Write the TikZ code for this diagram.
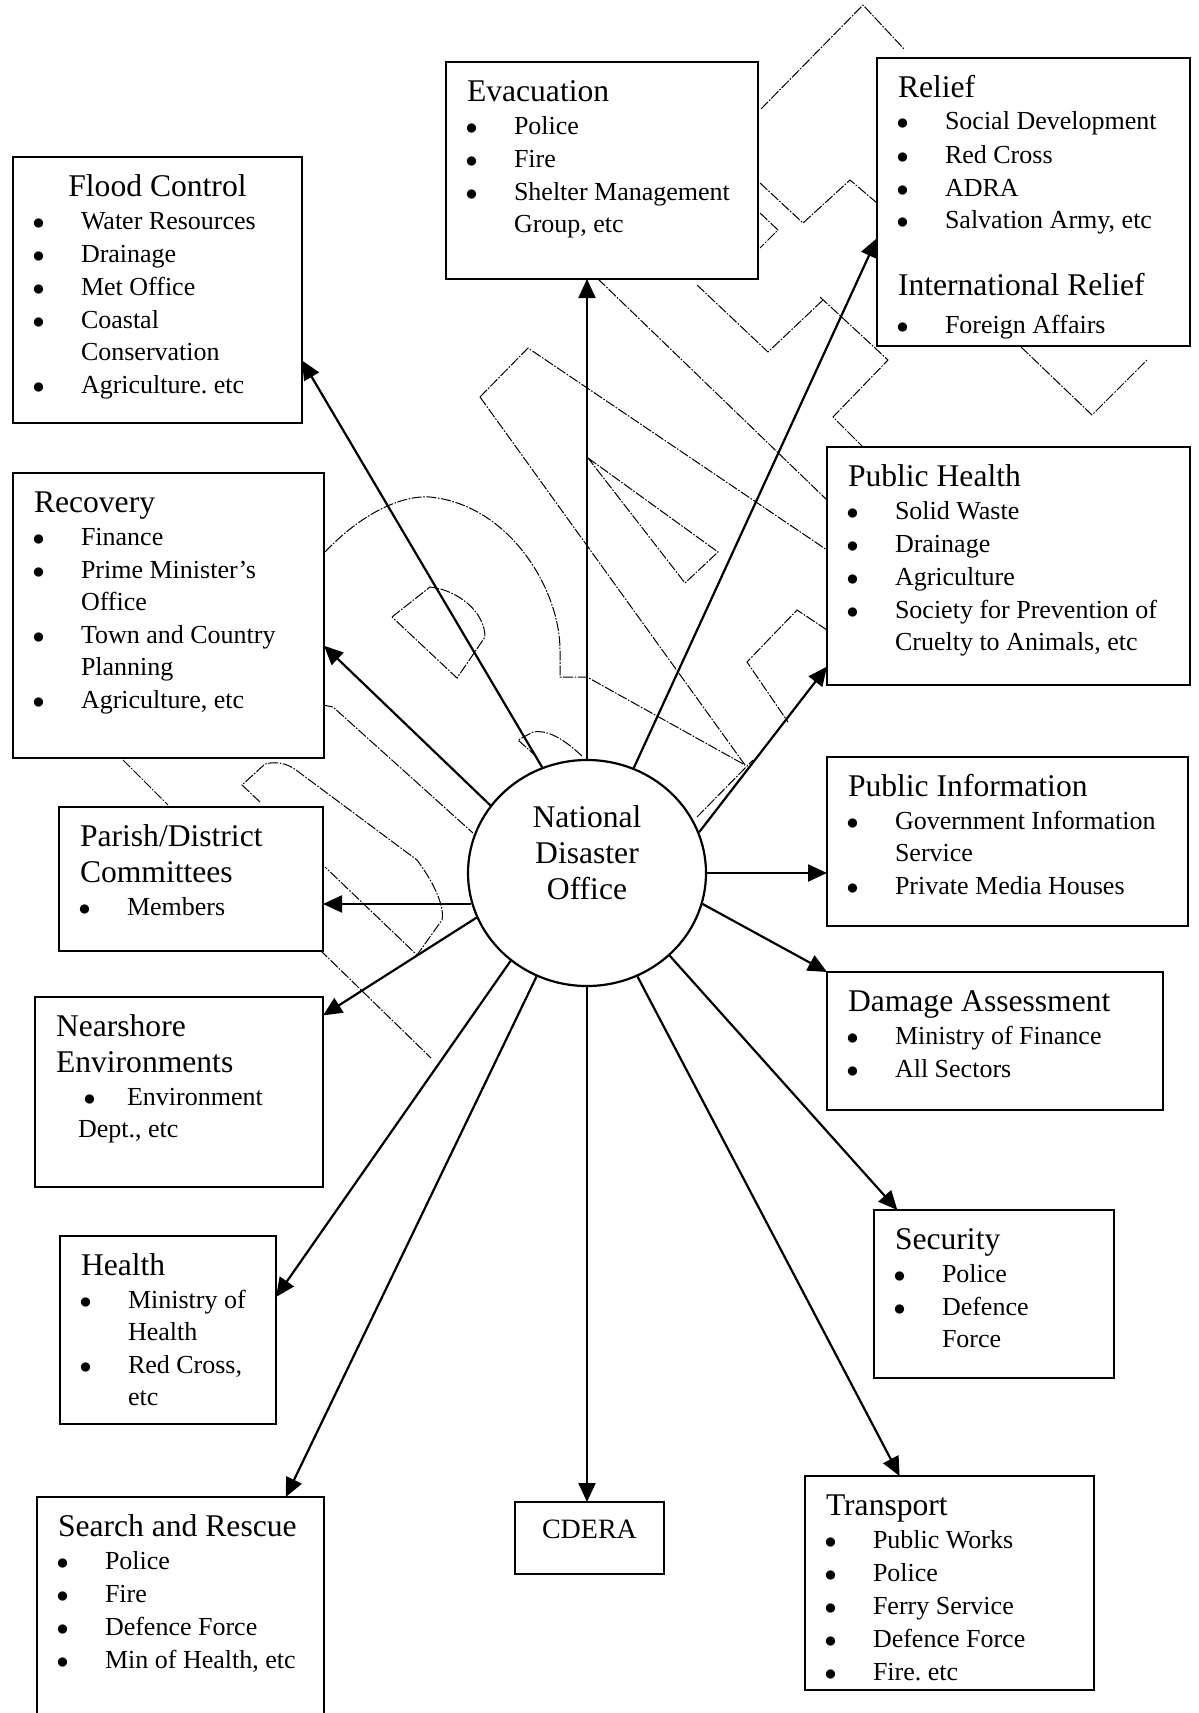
\documentclass[tikz,border=0pt]{standalone}
\usepackage{fontspec}
\setmainfont{Liberation Serif}
\usetikzlibrary{arrows.meta, shapes.geometric}

% text helpers for the boxes
\newcommand{\itemfont}{\fontsize{13}{16}\selectfont}
\newcommand{\hdfont}{\fontsize{15.8}{18}\selectfont}
\newcommand{\hd}[1]{{\hdfont\rule{0pt}{19.5pt}#1\par}}
\newcommand{\hdc}[1]{{\hdfont\centering\rule{0pt}{19.5pt}#1\par}}
\newcommand{\bdot}{\makebox[4.5pt]{$\bullet$}}
\newcommand{\itm}[1]{\hangindent=23.5pt\hangafter=1\noindent\makebox[23.5pt][l]{\bdot}#1\par}
\newcommand{\ubox}[3]{\parbox[t][#2pt][t]{#1pt}{\itemfont\raggedright\setlength{\parskip}{0.5pt}#3}}

\begin{document}
\begin{tikzpicture}[
    x=0.5pt, y=-0.5pt,
    unit/.style={draw, line width=1.4pt, fill=white, anchor=north west, inner xsep=10.5pt, inner ysep=0pt, outer sep=0pt},
    hub/.style={draw, ellipse, line width=1.1pt, fill=white, minimum width=119pt, minimum height=113pt, inner sep=0pt},
    arr/.style={-{Triangle[length=9.5pt, width=8.5pt]}, line width=1.1pt},
    wm/.style={line width=0.5pt, dash pattern=on 5pt off 0.8pt on 0.8pt off 0.8pt}
]
\useasboundingbox (0,0) rectangle (1199,1713);
\clip (0,0) rectangle (1199,1713);
\fill[white] (0,0) rectangle (1199,1713);

% faint background marks
\draw[wm] (480,397) -- (528,348) -- (827,550);
\draw[wm] (480,397) -- (745,765);
\draw[wm] (598,279) -- (827,500);
\draw[wm] (588,458) -- (718,552) -- (685,583) -- cycle;
\draw[wm] (697,285) -- (768,352) -- (823,300);
\draw[wm] (820,297) -- (888,360) -- (833,417) -- (863,447);
\draw[wm] (761,109) -- (863,5) -- (904,49);
\draw[wm] (760,183) -- (803,223) -- (850,180) -- (877,203);
\draw[wm] (760,213) -- (778,230) -- (760,248);
\draw[wm] (1021,347) -- (1092,415) -- (1147,360);
\draw[wm] (325,552) .. controls (360,515) and (400,495) .. (430,497) .. controls (510,505) and (560,590) .. (560,650) -- (560,677) -- (587,677) -- (745,765);
\draw[wm] (392,617) -- (430,587) .. controls (458,590) and (485,612) .. (485,637) -- (457,678) -- cycle;
\draw[wm] (827,630) -- (797,610) -- (747,662) -- (788,722);
\draw[wm] (537,757) -- (518,740) -- (533,732) .. controls (545,730) and (560,735) .. (583,757);
\draw[wm] (323,705) -- (333,707) -- (473,833);
\draw[wm] (123,760) -- (168,805);
\draw[wm] (260,802) -- (242,785) -- (265,764) .. controls (280,760) and (292,766) .. (300,773)
    -- (417,860) .. controls (432,880) and (445,905) .. (442,920) -- (417,955) -- (325,867);
\draw[wm] (320,950) -- (431,1058);
\draw[wm] (697,817) -- (753,760);

% agency boxes
\node[unit] (fc) at (13,157) {\ubox{123.5}{133}{\hdc{Flood Control}
    \itm{Water Resources}\itm{Drainage}\itm{Met Office}\itm{Coastal\newline Conservation}\itm{Agriculture.\ etc}}};
\node[unit] (evac) at (446,62) {\ubox{135}{108.5}{\hd{Evacuation}
    \itm{Police}\itm{Fire}\itm{Shelter Management\newline Group, etc}}};
\node[unit] (relief) at (877,58) {\ubox{135.5}{144}{\hd{Relief}
    \itm{Social Development}\itm{Red Cross}\itm{ADRA}\itm{Salvation Army, etc}
    \vspace{15pt}{\hdfont International Relief\par}\vspace{2pt}
    \itm{Foreign Affairs}}};
\node[unit] (rec) at (13,473) {\ubox{134.5}{142.5}{\hd{Recovery}
    \itm{Finance}\itm{Prime Minister's\newline Office}\itm{Town and Country\newline Planning}\itm{Agriculture, etc}}};
\node[unit] (ph) at (827,447) {\ubox{160.5}{119}{\hd{Public Health}
    \itm{Solid Waste}\itm{Drainage}\itm{Agriculture}\itm{Society for Prevention of\newline Cruelty to Animals, etc}}};
\node[unit] (pi) at (827,757) {\ubox{159.5}{84.5}{\hd{Public Information}
    \itm{Government Information\newline Service}\itm{Private Media Houses}}};
\node[unit] (da) at (827,972) {\ubox{147}{69}{\hd{Damage Assessment}
    \itm{Ministry of Finance}\itm{All Sectors}}};
\node[unit] (sec) at (874,1210) {\ubox{99}{84}{\hd{Security}
    \itm{Police}\itm{Defence\newline Force}}};
\node[unit] (trans) at (805,1476) {\ubox{123.5}{107}{\hd{Transport}
    \itm{Public Works}\itm{Police}\itm{Ferry Service}\itm{Defence Force}\itm{Fire.\ etc}}};
\node[unit] (cdera) at (515,1502) {\ubox{53.5}{36}{\centering\fontsize{14}{16}\selectfont\rule{0pt}{18pt}CDERA\par}};
\node[unit] (sr) at (37,1497) {\ubox{122.5}{130}{\hd{Search and Rescue}
    \itm{Police}\itm{Fire}\itm{Defence Force}\itm{Min of Health, etc}}};
\node[unit] (hl) at (60,1236) {\ubox{87}{94}{\hd{Health}
    \itm{Ministry of\newline Health}\itm{Red Cross,\newline etc}}};
\node[unit] (ns) at (35,997) {\ubox{123}{95}{{\hdfont\rule{0pt}{19.5pt}Nearshore\\Environments\par}
    \noindent\hspace*{14.5pt}\makebox[21pt][l]{\bdot}Environment\\\hspace*{11pt}Dept., etc\par}};
\node[unit] (parish) at (59,807) {\ubox{111}{72}{{\hdfont\rule{0pt}{19.5pt}Parish/District\\Committees\par}
    \itm{Members}}};

% the office in the middle
\node[hub] (ndo) at (587,873) {};
\node[font=\hdfont, align=center] (ndotext) at (587,853) {National\\Disaster\\Office};

% links out of the office
\draw[arr] (ndo.113) -- (fc.-26);
\draw[arr] (ndo.north) -- (ndo.north |- evac.south);
\draw[arr] (ndo.66) -- (relief.193);
\draw[arr] (ndo.145) -- (rec.-11);
\draw[arr] (ndo.20) -- (ph.209);
\draw[arr] (ndo.east) -- (ndo.east -| pi.west);
\draw[arr] (ndo.-15) -- (da.north west);
\draw[arr] (ndo.-45) -- (sec.139);
\draw[arr] (ndo.-64) -- (trans.115);
\draw[arr] (ndo.south) -- (ndo.south |- cdera.north);
\draw[arr] (ndo.-116) -- (sr.51);
\draw[arr] (ndo.-131) -- (hl.17);
\draw[arr] (ndo.202) -- (ns.28);
\draw[arr] (ndo.195) -- (ndo.195 -| parish.east);
\end{tikzpicture}
\end{document}
